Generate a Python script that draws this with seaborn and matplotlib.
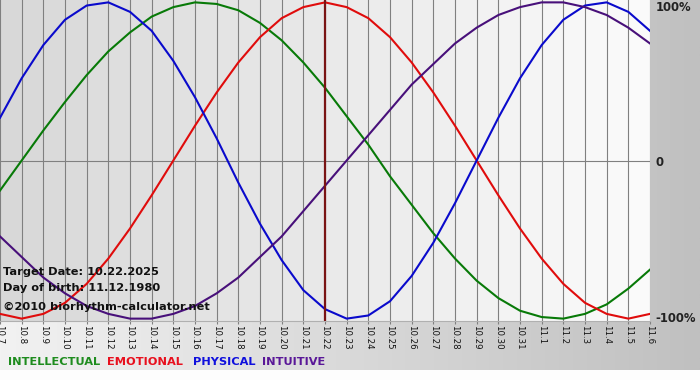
import numpy as np
import pandas as pd
import seaborn as sns
import matplotlib.pyplot as plt
from matplotlib.colors import LinearSegmentedColormap, to_hex

# days shown on the chart (10.7 .. 11.6)
days = ['10.7', '10.8', '10.9', '10.10', '10.11', '10.12', '10.13', '10.14', '10.15',
        '10.16', '10.17', '10.18', '10.19', '10.20', '10.21', '10.22', '10.23', '10.24',
        '10.25', '10.26', '10.27', '10.28', '10.29', '10.30', '10.31', '11.1', '11.2',
        '11.3', '11.4', '11.5', '11.6']

intellectual = [-0.19, 0.00, 0.19, 0.37, 0.54, 0.69, 0.81, 0.91, 0.97, 1.00, 0.99,
                0.95, 0.87, 0.76, 0.62, 0.46, 0.28, 0.10, -0.10, -0.28, -0.46, -0.62,
                -0.76, -0.87, -0.95, -0.99, -1.00, -0.97, -0.91, -0.81, -0.69]
emotional = [-0.97, -1.00, -0.97, -0.90, -0.78, -0.62, -0.43, -0.22, 0.00, 0.22, 0.43,
             0.62, 0.78, 0.90, 0.97, 1.00, 0.97, 0.90, 0.78, 0.62, 0.43, 0.22,
             0.00, -0.22, -0.43, -0.62, -0.78, -0.90, -0.97, -1.00, -0.97]
physical = [0.27, 0.52, 0.73, 0.89, 0.98, 1.00, 0.94, 0.82, 0.63, 0.40, 0.14,
            -0.14, -0.40, -0.63, -0.82, -0.94, -1.00, -0.98, -0.89, -0.73, -0.52, -0.27,
            0.00, 0.27, 0.52, 0.73, 0.89, 0.98, 1.00, 0.94, 0.82]
intuitive = [-0.48, -0.61, -0.74, -0.84, -0.92, -0.97, -1.00, -1.00, -0.97, -0.92, -0.84,
             -0.74, -0.61, -0.48, -0.32, -0.16, 0.00, 0.16, 0.32, 0.48, 0.61, 0.74,
             0.84, 0.92, 0.97, 1.00, 1.00, 0.97, 0.92, 0.84, 0.74]

rhythms = ['INTELLECTUAL', 'EMOTIONAL', 'PHYSICAL', 'INTUITIVE']
target_day = '10.22'
target_date = '10.22.2025'
birth_date = '11.12.1980'

line_colors = {'INTELLECTUAL': '#087a08', 'EMOTIONAL': '#e00c0c',
               'PHYSICAL': '#0a0acc', 'INTUITIVE': '#48107a'}
text_colors = {'INTELLECTUAL': '#1e8c1e', 'EMOTIONAL': '#e8101e',
               'PHYSICAL': '#1010dd', 'INTUITIVE': '#5a1898'}

df = pd.DataFrame({
    'day': list(range(len(days))) * 4,
    'value': intellectual + emotional + physical + intuitive,
    'rhythm': sum([[r] * len(days) for r in rhythms], []),
})

W, H = 700, 380
fig = plt.figure(figsize=(7, 3.8), dpi=100)
fig.patch.set_facecolor('#fdfdfd')

# grey frame with a left-to-right gradient
bg = fig.add_axes([0, 0, 1, 1])
frame_cmap = LinearSegmentedColormap.from_list('frame', ['#f2f2f2', '#c0c0c0'])
bg.imshow(np.linspace(0, 1, 256).reshape(1, -1), aspect='auto', cmap=frame_cmap,
          extent=[0, W, 10, H])
bg.set_xlim(0, W)
bg.set_ylim(0, H)
bg.axis('off')

ax = fig.add_axes([0, 59 / H, 650 / W, 321 / H])
n = len(days) - 1
col_cmap = LinearSegmentedColormap.from_list('cols', ['#d8d8d8', '#fafafa'])
for k in range(n):
    ax.axvspan(k, k + 1, color=to_hex(col_cmap(k / (n - 1))), lw=0, zorder=0.1)

sns.lineplot(data=df, x='day', y='value', hue='rhythm', hue_order=rhythms,
             palette=line_colors, legend=False, lw=1.5, ax=ax, zorder=3)

ax.set_xlim(0, n)
ax.set_ylim(-1.015, 1.015)
ax.set_axisbelow(True)
ax.set_xticks(range(len(days)))
ax.set_xticklabels(days, rotation=270, fontsize=6.2, color='#111111')
ax.tick_params(axis='x', length=2, pad=1, color='#808080')
ax.set_yticks([])
ax.grid(axis='x', color='#808080', lw=0.8)
ax.axhline(0, color='#808080', lw=0.8, zorder=0.6)
ax.axvline(days.index(target_day), color='#7a1414', lw=1.6, zorder=4)
ax.set_xlabel('')
ax.set_ylabel('')
for s in ['top', 'left', 'right']:
    ax.spines[s].set_visible(False)
ax.spines['bottom'].set_color('#b0b0b0')
ax.spines['bottom'].set_linewidth(0.8)

for label, yv in [('100%', 0.97), ('0', -0.01), ('-100%', -1.0)]:
    ax.text(n + 0.25, yv, label, fontsize=8.4, fontweight='bold', color='#222222',
            ha='left', va='center', clip_on=False)

info = [(f'Target Date: {target_date}', 272), (f'Day of birth: {birth_date}', 288),
        ('©2010 biorhythm-calculator.net', 307)]
for txt, py in info:
    fig.text(3 / W, 1 - py / H, txt, fontsize=8.2, fontweight='bold', color='#111111',
             ha='left', va='center', zorder=5)

xpos = {'INTELLECTUAL': 8, 'EMOTIONAL': 107, 'PHYSICAL': 193, 'INTUITIVE': 262}
for r in rhythms:
    fig.text(xpos[r] / W, 1 - 362 / H, r, fontsize=8.2, fontweight='bold',
             color=text_colors[r], ha='left', va='center')

fig.savefig('out.png', dpi=100)
